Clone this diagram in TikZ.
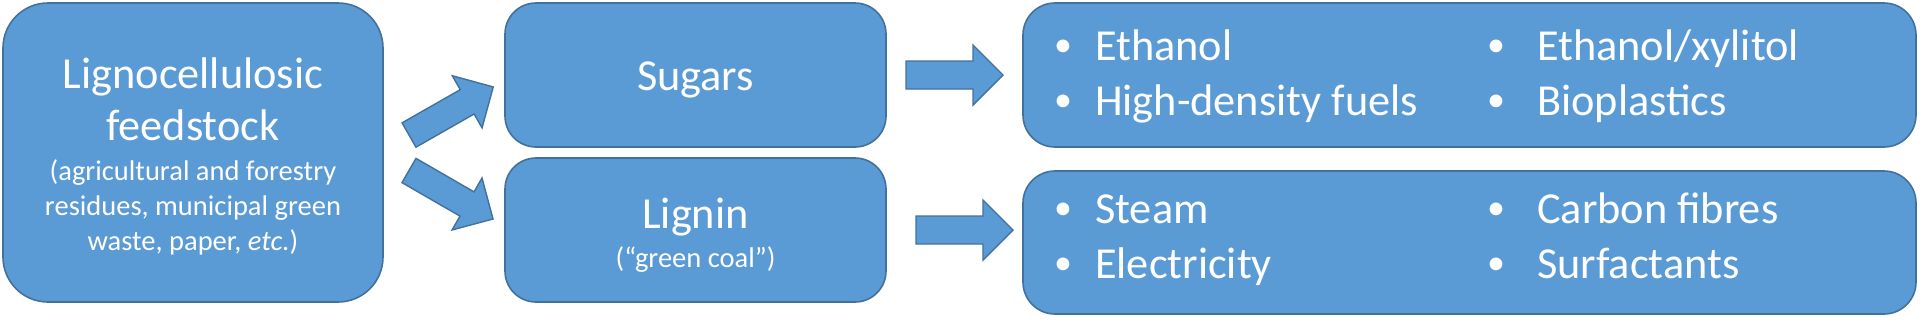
\documentclass[tikz,border=0pt]{standalone}
\usepackage{fontspec}
\setmainfont{Carlito}
\definecolor{boxfill}{HTML}{5B9BD5}
\definecolor{boxline}{HTML}{41719C}
\tikzset{
  box/.style={draw=boxline, fill=boxfill, line width=1.6pt, inner sep=0pt},
  bigtxt/.style={text=white, font=\fontsize{44.3}{52}\selectfont, inner sep=0pt, anchor=base},
  smalltxt/.style={text=white, font=\fontsize{28.5}{35}\selectfont, inner sep=0pt, anchor=base},
  itemtxt/.style={text=white, font=\fontsize{44.3}{52}\selectfont, inner sep=0pt, anchor=base west},
  bullettxt/.style={text=white, font=\fontsize{36}{40}\selectfont, inner sep=0pt, anchor=base},
  blockarr/.style={draw=boxline, fill=boxfill, line width=1.4pt, line join=miter},
}
\newcommand\myblockarrow[3]{%
  \begin{scope}[shift={(#1)},rotate=#2]
    \draw[blockarr] (0,-14) -- ({#3-30},-14) -- ({#3-30},-30) -- (#3,0) -- ({#3-30},30) -- ({#3-30},14) -- (0,14) -- cycle;
  \end{scope}}
\begin{document}
\begin{tikzpicture}[x=1pt,y=-1pt]
\useasboundingbox (0,0) rectangle (1920,325);
% boxes
\node[box, rounded corners=45pt, minimum width=380pt, minimum height=299pt] (feed) at (193,152.5) {};
\node[box, rounded corners=31pt, minimum width=381pt, minimum height=144pt] (sugars) at (695.5,75) {};
\node[box, rounded corners=31pt, minimum width=381pt, minimum height=144pt] (lignin) at (695.5,230) {};
\node[box, rounded corners=32pt, minimum width=893pt, minimum height=144pt] (sprod) at (1469.5,75) {};
\node[box, rounded corners=32pt, minimum width=893pt, minimum height=143pt] (lprod) at (1469.5,242.5) {};
% texts
\node[bigtxt] (feedtitleA) at (193,88) {Lignocellulosic};
\node[bigtxt] (feedtitleB) at (193,140) {feedstock};
\node[smalltxt] (feedsubA) at (193,180) {(agricultural and forestry};
\node[smalltxt] (feedsubB) at (193,215) {residues, municipal green};
\node[smalltxt] (feedsubC) at (193,250) {waste, paper, \textit{etc.})};
\node[bigtxt] (sugtxt) at (695.5,90) {Sugars};
\node[bigtxt] (ligtxt) at (695.5,228) {Lignin};
\node[smalltxt] (ligsub) at (695.5,267) {(“green coal”)};
% bullets
\node[bullettxt] (b1) at (1063,56) {•};
\node[bullettxt] (b2) at (1063,111) {•};
\node[bullettxt] (b3) at (1496,56) {•};
\node[bullettxt] (b4) at (1496,111) {•};
\node[bullettxt] (b5) at (1063,219) {•};
\node[bullettxt] (b6) at (1063,274) {•};
\node[bullettxt] (b7) at (1496,219) {•};
\node[bullettxt] (b8) at (1496,274) {•};
\node[itemtxt] (i1) at (1095,60) {Ethanol};
\node[itemtxt] (i2) at (1095,115) {High-density fuels};
\node[itemtxt] (i3) at (1537,60) {Ethanol/xylitol};
\node[itemtxt] (i4) at (1537,115) {Bioplastics};
\node[itemtxt] (i5) at (1095,223) {Steam};
\node[itemtxt] (i6) at (1095,278) {Electricity};
\node[itemtxt] (i7) at (1537,223) {Carbon fibres};
\node[itemtxt] (i8) at (1537,278) {Surfactants};
% block arrows
\coordinate (a1) at (409,135);
\coordinate (a2) at (409,170.5);
\coordinate (a3) at (906,75);
\coordinate (a4) at (916,230);
\myblockarrow{a1}{29.7}{97}
\myblockarrow{a2}{-30}{97}
\myblockarrow{a3}{0}{97}
\myblockarrow{a4}{0}{97}
\end{tikzpicture}
\end{document}
